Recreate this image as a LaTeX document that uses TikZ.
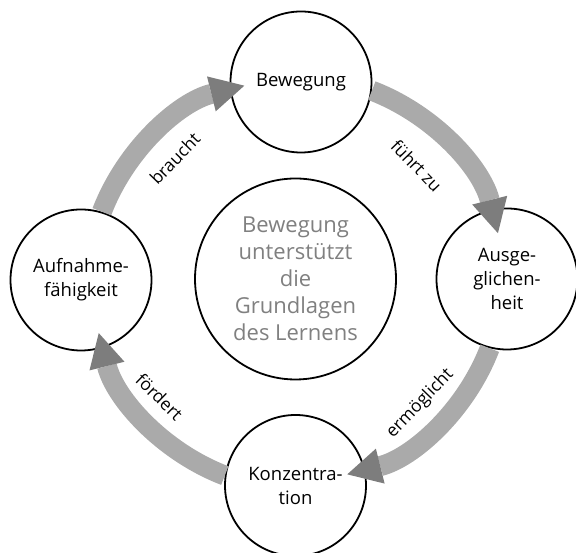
\documentclass[tikz,border=0pt]{standalone}
\usepackage{fontspec}
\setmainfont{Open Sans}
\usetikzlibrary{arrows.meta}
\definecolor{shaftgray}{RGB}{170,170,170}
\definecolor{headgray}{RGB}{125,125,125}
\definecolor{coregray}{RGB}{128,128,128}
\begin{document}
\begin{tikzpicture}[x=1pt,y=1pt,
   station/.style={draw,circle,line width=1.8pt,fill=white,minimum size=141pt,inner sep=0pt,
      align=center,font=\fontsize{18.5}{24}\selectfont},
   core/.style={station,minimum size=201pt,text=coregray,font=\fontsize{22}{27}\selectfont},
   flow/.style={draw=shaftgray,line width=20pt,
      -{Triangle[length=34pt,width=36pt,line width=0pt,color=headgray]}},
   flowlabel/.style={font=\fontsize{17.5}{20}\selectfont,inner sep=0pt}]
\useasboundingbox (0,0) rectangle (576,553);

\coordinate (hub) at (295,270);
\node[core] (mid) at (295.5,274) {Bewegung\\unterstützt\\die\\Grundlagen\\des Lernens};
\node[station] (bew) at (301,471) {Bewegung};
\node[station] (aus) at (507,274) {Ausge-\\glichen-\\heit};
\node[station] (konz) at (295.5,67.5) {Konzentra-\\tion};
\node[station] (auf) at (81,273) {Aufnahme-\\fähigkeit};

\draw[flow] (auf.73) arc[start angle=159,end angle=104,radius=206];
\draw[flow] (bew.-7) arc[start angle=69,end angle=14,radius=206];
\draw[flow] (aus.-104) arc[start angle=-21,end angle=-76,radius=206];
\draw[flow] (konz.172) arc[start angle=-111,end angle=-166,radius=206];

\node[flowlabel,rotate=46] (braucht) at ([shift={(134:173)}]hub) {braucht};
\node[flowlabel,rotate=-46] (fuehrt) at ([shift={(44:169)}]hub) {führt zu};
\node[flowlabel,rotate=46] (ermoeglicht) at ([shift={(-44:174)}]hub) {ermöglicht};
\node[flowlabel,rotate=-44] (foerdert) at ([shift={(220:177)}]hub) {fördert};

\end{tikzpicture}
\end{document}
